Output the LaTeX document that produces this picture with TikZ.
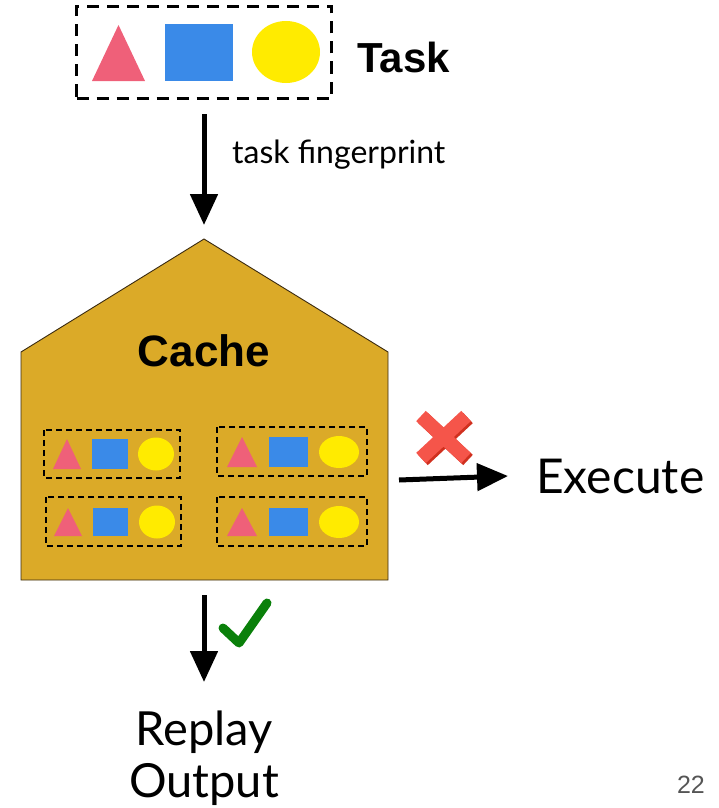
\documentclass[tikz,border=0pt]{standalone}
\usepackage{fontspec}
\setmainfont{Lato}
\newfontfamily\headfont{Liberation Sans}
\usetikzlibrary{arrows.meta}

\definecolor{tripink}{HTML}{EF6079}
\definecolor{sqblue}{HTML}{3A8AE8}
\definecolor{ovalyellow}{HTML}{FFEB00}
\definecolor{cachegold}{HTML}{DBAA28}
\definecolor{cacheedge}{HTML}{3A2A10}
\definecolor{crossred}{HTML}{F5554A}
\definecolor{crossshade}{HTML}{D0301F}
\definecolor{tickgreen}{HTML}{0A800A}
\definecolor{pagegray}{HTML}{555555}

\tikzset{
  flow/.style={line width=5pt, -{Triangle[length=31pt,width=27pt]}},
  taskbox/.style={draw, line width=3pt, dash pattern=on 12pt off 8pt,
    minimum width=255pt, minimum height=92pt, inner sep=0pt},
  slotbox/.style={draw, line width=1.5pt, dash pattern=on 6pt off 4pt},
  trifill/.style={fill=tripink},
  sqfill/.style={fill=sqblue},
  ovalfill/.style={fill=ovalyellow},
  bigsans/.style={font=\headfont\bfseries\fontsize{#1}{#1}\selectfont},
  lato/.style={font=\fontsize{#1}{#1}\selectfont},
}

\begin{document}
\begin{tikzpicture}[x=1pt, y=-1pt]
  \useasboundingbox (0,0) rectangle (718,808);

  % task: dashed frame with a triangle, a square and a circle
  \node[taskbox] (task) at (204,52.5) {};
  \fill[trifill] (92,81) -- (145,81) -- (118.5,25) -- cycle;
  \fill[sqfill] (165,24) rectangle (233,81);
  \fill[ovalfill] (286,52) ellipse [x radius=34pt, y radius=31pt];
  \node[bigsans=42, anchor=base west, inner sep=0pt] (tasklabel) at (357,72) {Task};

  % cache building
  \draw[fill=cachegold, draw=cacheedge, line width=0.9pt]
    (21,580) -- (21,352) -- (204,239) -- (388,352) -- (388,580) -- cycle;
  \coordinate (apex) at (204,239);
  \coordinate (cacheE) at (388,480);
  \coordinate (cacheS) at (204,580);
  \node[bigsans=44, anchor=base, inner sep=0pt] (cachelabel) at (204,366) {Cache};

  % stored entries inside the cache
  \foreach \bx/\by/\bX/\bY/\ta/\tb/\sa/\sb/\yt/\yb/\ex/\ey/\rx/\ry in {
      44/430/180/478/53/81/92/128/439/469/156/454/18/16.5,
      217/427/367/476/227/257/269/308/437/467/339/452/20/16,
      46/497/181/546/54/82/93/128/508/536/157/522/18/16.5,
      217/497/367/546/227/257/269/308/508/536/339/522/20/16} {
    \draw[slotbox] (\bx,\by) rectangle (\bX,\bY);
    \fill[trifill] (\ta,\yb) -- (\tb,\yb) -- ({(\ta+\tb)/2},\yt) -- cycle;
    \fill[sqfill] (\sa,\yt) rectangle (\sb,\yb);
    \fill[ovalfill] (\ex,\ey) ellipse [x radius=\rx pt, y radius=\ry pt];
  }

  % outcomes
  \node[lato=48, anchor=west, inner sep=0pt] (exec) at (536,476) {Execute};
  \node[lato=47, align=center, anchor=north, inner sep=0pt,
        font=\fontsize{47}{52}\selectfont] (replay) at (204,711) {Replay\\Output};

  % connectors
  \draw[flow] ([yshift=-14pt]task.south) -- ([yshift=14pt]apex);
  \node[lato=32, anchor=base west, inner sep=0pt] (fplabel) at (232,163) {task fingerprint};
  \draw[flow] ([xshift=11pt]cacheE) -- ([xshift=-28pt]exec.west);
  \draw[flow] ([yshift=-15pt]cacheS) -- ([yshift=29pt]replay.north);

  % miss mark
  \begin{scope}[line width=14pt]
    \draw[crossshade] (423,418) -- (468,460) (468,418) -- (423,460);
    \draw[crossred] (421,416) -- (466,458) (466,416) -- (421,458);
  \end{scope}

  % hit mark
  \draw[tickgreen, line width=9pt, line cap=round, line join=round]
    (223,628) -- (239,643) -- (267,603);

  % page number
  \node[font=\headfont\fontsize{25}{25}\selectfont, text=pagegray,
        anchor=base east, inner sep=0pt] (pagenum) at (705,793) {22};
\end{tikzpicture}
\end{document}
